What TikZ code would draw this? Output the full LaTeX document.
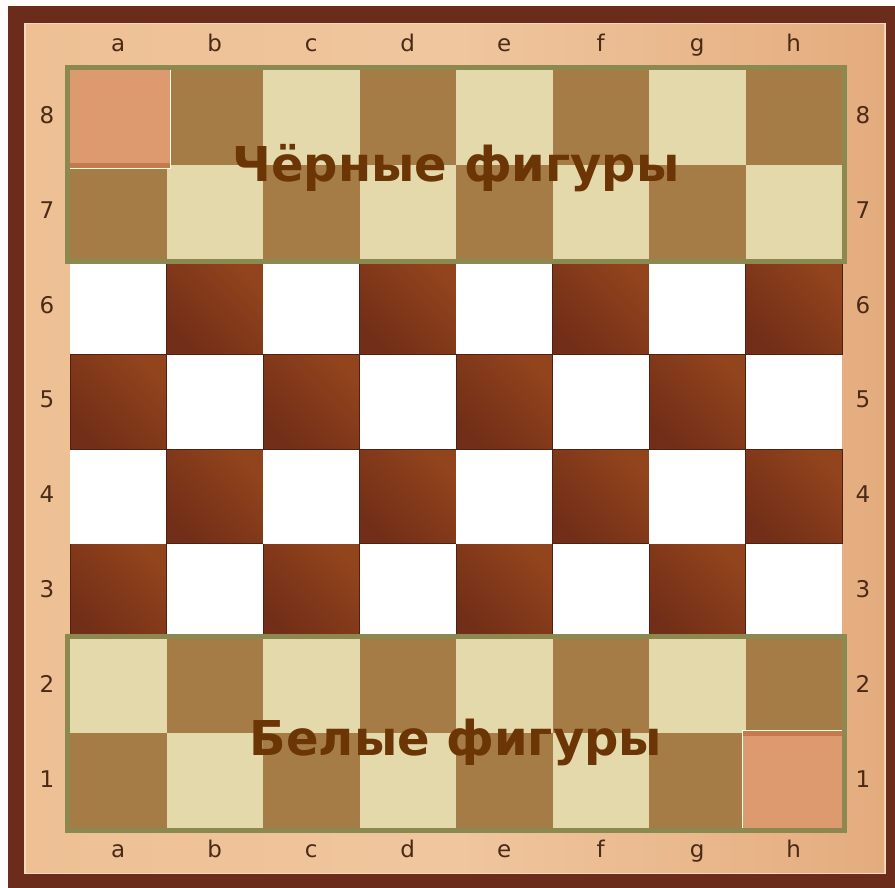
\documentclass[tikz,border=0pt]{standalone}
\usepackage{fontspec}
\setmainfont{DejaVu Sans}
\usepackage{xcolor}
\definecolor{rimdark}{RGB}{108,44,28}
\definecolor{woodlight}{RGB}{238,192,148}
\definecolor{wooddeep}{RGB}{228,172,126}
\definecolor{sqdarkA}{RGB}{114,46,24}
\definecolor{sqdarkB}{RGB}{146,68,28}
\definecolor{sqpale}{RGB}{228,217,170}
\definecolor{sqtan}{RGB}{166,124,70}
\definecolor{zoneolive}{RGB}{140,137,80}
\definecolor{startsq}{RGB}{220,154,110}
\definecolor{startstrip}{RGB}{200,120,74}
\definecolor{titlebrown}{RGB}{107,53,6}
\definecolor{coordbrown}{RGB}{74,42,22}
\usepackage{tikz}

\begin{document}
\begin{tikzpicture}[x=1pt, y=-1pt,
    sqdark/.style={shading=axis, left color=sqdarkA, right color=sqdarkB,
                   shading angle=135, draw=sqdarkA!70!black, line width=0.6pt},
    sqwhite/.style={fill=white},
    sqpaleside/.style={fill=sqpale},
    sqtanside/.style={fill=sqtan},
    zone/.style={draw=zoneolive, line width=5pt},
    coord/.style={font=\fontsize{23}{23}\selectfont, text=coordbrown, inner sep=0pt},
    title/.style={font=\fontsize{48}{52}\selectfont\bfseries, text=titlebrown, inner sep=0pt},
  ]

  %% frame
  \useasboundingbox (0,0) rectangle (895,888);
  \fill[white!95!pink] (0,0) rectangle (895,888);
  \fill[rimdark] (8,6) rectangle (895,888);
  \fill[woodlight!60!white] (24,23) rectangle (886,874);
  \shade[left color=woodlight, right color=wooddeep, middle color=woodlight!90!white]
    (26,25) rectangle (884,872);

  %% squares: column c = a..h, row r = 1..8
  \foreach \c in {0,...,7} {
    \foreach \r in {1,...,8} {
      \pgfmathsetmacro{\xl}{70+96.5*\c}
      \pgfmathsetmacro{\yt}{70+94.75*(8-\r)}
      \pgfmathtruncatemacro{\odd}{mod(\c+\r,2)}
      \ifnum\r>2 \ifnum\r<7
        \ifnum\odd=1
          \path[sqdark] (\xl,\yt) rectangle ++(96.5,94.75);
        \else
          \path[sqwhite] (\xl,\yt) rectangle ++(96.5,94.75);
        \fi
      \fi\fi
      \ifnum\r<3
        \ifnum\odd=1 \path[sqtanside] (\xl,\yt) rectangle ++(96.5,94.75);
        \else \path[sqpaleside] (\xl,\yt) rectangle ++(96.5,94.75); \fi
      \fi
      \ifnum\r>6
        \ifnum\odd=1 \path[sqtanside] (\xl,\yt) rectangle ++(96.5,94.75);
        \else \path[sqpaleside] (\xl,\yt) rectangle ++(96.5,94.75); \fi
      \fi
    }
  }

  %% starting squares a8 and h1
  \fill[startsq] (70,70) rectangle (170,168);
  \fill[startstrip] (70,163) rectangle (170,168);
  \draw[white!90!yellow, line width=1.5pt] (70,168.5) -- (170.5,168.5) -- (170.5,70);
  \fill[startsq] (743,731) rectangle (842,828);
  \fill[startstrip] (743,731) rectangle (842,736);
  \draw[white!90!yellow, line width=1.5pt] (842,730.5) -- (742.5,730.5) -- (742.5,828);

  %% zones
  \draw[zone] (67.5,67.5) rectangle (844.5,261.5);
  \draw[zone] (67.5,636.5) rectangle (844.5,830.5);

  %% coordinates
  \foreach \l [count=\i from 0] in {a,b,c,d,e,f,g,h} {
    \pgfmathsetmacro{\xm}{118.25+96.5*\i}
    \node[coord, anchor=base] (top\l) at (\xm,52) {\l};
    \node[coord, anchor=base] (bot\l) at (\xm,857) {\l};
  }
  \foreach \n in {1,...,8} {
    \pgfmathsetmacro{\ym}{115.4+94.75*(8-\n)}
    \node[coord] (left\n) at (47,\ym) {\n};
    \node[coord] (right\n) at (863,\ym) {\n};
  }

  %% titles
  \node[title, anchor=base] (black) at (456,182) {Чёрные фигуры};
  \node[title, anchor=base] (white) at (456,755) {Белые фигуры};

\end{tikzpicture}
\end{document}
